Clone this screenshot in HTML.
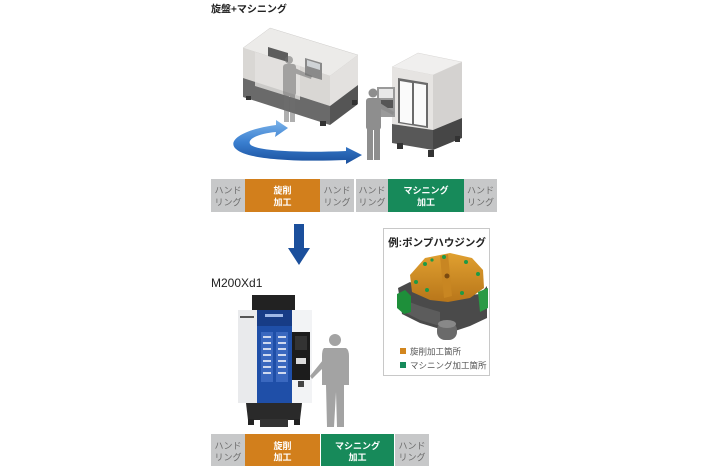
<!DOCTYPE html>
<html><head><meta charset="utf-8">
<style>
html,body{margin:0;padding:0;background:#fff;}
svg{display:block;}
text{font-family:"Liberation Sans","Noto Sans CJK JP",sans-serif;}
</style></head>
<body>
<svg width="710" height="474" viewBox="0 0 710 474" xmlns="http://www.w3.org/2000/svg">
<defs>
<linearGradient id="ag" x1="0" y1="0" x2="0" y2="1">
<stop offset="0" stop-color="#7db4ea"/>
<stop offset="0.5" stop-color="#3a7fd0"/>
<stop offset="1" stop-color="#1a4f9c"/>
</linearGradient>
<linearGradient id="og" x1="0" y1="0" x2="0" y2="1">
<stop offset="0" stop-color="#e0a030"/>
<stop offset="1" stop-color="#b8761a"/>
</linearGradient>
</defs>
<rect width="710" height="474" fill="#fff"/>

<!-- Title -->
<text x="211" y="12.5" font-size="10" font-weight="bold" fill="#222">旋盤+マシニング</text>

<!-- Lathe -->
<polygon points="243,48 270,28 358,55 330,76" fill="#ecebe9" stroke="#cfcdcb" stroke-width="0.5"/>
<polygon points="243,48 330,76 330,106 243,78" fill="#d9d7d4"/>
<polygon points="243,78 330,106 330,125 243,97" fill="#6a6a6a"/>
<polygon points="330,76 358,55 358,85 330,106" fill="#e3e1df"/>
<polygon points="330,106 358,85 358,104 330,125" fill="#555"/>
<polygon points="255,52 300,66 300,100 255,86" fill="#e4e2e0" opacity="0.8"/>
<polygon points="268,47 288,53 288,62 268,56" fill="#5d5d5d"/>
<polygon points="305,58 322,63 322,80 305,75" fill="#8a8a8a"/>
<polygon points="307,60 320,64 320,70 307,66" fill="#cfd3d6"/>
<rect x="246" y="96" width="5" height="4" fill="#333"/>
<rect x="320" y="121" width="6" height="5" fill="#333"/>
<rect x="352" y="100" width="5" height="5" fill="#333"/>
<!-- translucent person -->
<g fill="#6f6f6f" opacity="0.55">
<circle cx="289" cy="60" r="4"/>
<rect x="283" y="64" width="13" height="32" rx="3"/>
<rect x="284" y="95" width="5" height="27"/>
<rect x="290" y="95" width="5" height="27"/>
<polygon points="295,68 312,76 311,79 294,73"/>
</g>

<!-- Mill -->
<polygon points="392,67 418,53 462,62 433,75" fill="#f0efee" stroke="#d8d6d4" stroke-width="0.5"/>
<polygon points="392,67 433,75 433,130 392,124" fill="#e6e4e2"/>
<polygon points="392,124 433,130 433,150 392,143" fill="#585858"/>
<polygon points="433,75 462,62 462,118 433,130" fill="#d4d2d0"/>
<polygon points="433,130 462,118 462,138 433,150" fill="#464646"/>
<polygon points="398,78 428,83 428,128 398,123" fill="#6a6a6a"/>
<polygon points="400,81 412,83 412,124 400,122" fill="#fafafa"/>
<polygon points="414,83 426,85 426,126 414,124" fill="#fafafa"/>
<rect x="397" y="143" width="6" height="6" fill="#333"/>
<rect x="428" y="150" width="6" height="7" fill="#333"/>
<rect x="455" y="136" width="5" height="6" fill="#333"/>
<!-- panel + person -->
<rect x="377" y="87" width="18" height="30" fill="#9a9a9a"/>
<rect x="379" y="89" width="14" height="9" fill="#e8e8e8"/>
<rect x="379" y="100" width="14" height="8" fill="#555"/>
<g fill="#8e8e8e">
<circle cx="373" cy="93" r="4.5"/>
<rect x="366" y="98" width="15" height="32" rx="3"/>
<rect x="367" y="128" width="6" height="32"/>
<rect x="374" y="128" width="6" height="32"/>
<polygon points="380,103 394,112 393,115 379,108"/>
</g>

<!-- Curved blue arrow -->
<path d="M276,125 C245,129 226,140 236,149 C247,160 300,162 346,160 L346,164 L362,155 L346,147 L346,151 C300,153 254,151 250,144 C247,138 262,133 276,132 L275,137 L288,128 L276,120 Z" fill="url(#ag)"/>

<!-- Top process bar -->
<rect x="211" y="179" width="34" height="33" fill="#c7c8c9"/>
<rect x="245" y="179" width="75" height="33" fill="#d27f1c"/>
<rect x="320" y="179" width="34" height="33" fill="#c7c8c9"/>
<rect x="356" y="179" width="32" height="33" fill="#c7c8c9"/>
<rect x="388" y="179" width="76" height="33" fill="#178a5a"/>
<rect x="464" y="179" width="33" height="33" fill="#c7c8c9"/>
<g font-size="9" text-anchor="middle" fill="#6c6c6c">
<text x="228" y="193.5">ハンド</text><text x="228" y="205.5">リング</text>
<text x="337" y="193.5">ハンド</text><text x="337" y="205.5">リング</text>
<text x="372" y="193.5">ハンド</text><text x="372" y="205.5">リング</text>
<text x="480.5" y="193.5">ハンド</text><text x="480.5" y="205.5">リング</text>
</g>
<g font-size="9" text-anchor="middle" fill="#fff" font-weight="bold">
<text x="282.5" y="193.5">旋削</text><text x="282.5" y="205.5">加工</text>
<text x="426" y="193.5">マシニング</text><text x="426" y="205.5">加工</text>
</g>

<!-- Down arrow -->
<rect x="294" y="224" width="10" height="25" fill="#1b4f9c"/>
<polygon points="288,248 310,248 299,265" fill="#1b4f9c"/>

<!-- M200Xd1 -->
<text x="211" y="287" font-size="12" fill="#222">M200Xd1</text>

<!-- Bottom machine -->
<rect x="252" y="295" width="43" height="16" fill="#222"/>
<rect x="238" y="310" width="74" height="93" fill="#f2f3f5"/>
<rect x="238" y="310" width="19" height="93" fill="#e9eaec"/>
<rect x="257" y="310" width="35" height="93" fill="#1f4fa8"/>
<rect x="257" y="310" width="35" height="16" fill="#173c86"/>
<rect x="265" y="314" width="18" height="3" fill="#9fb8e6"/>
<rect x="261" y="332" width="12" height="50" fill="#3a68bf"/>
<rect x="276" y="332" width="12" height="50" fill="#3a68bf"/>
<g fill="#cfd9ef">
<rect x="263" y="336" width="8" height="2"/><rect x="263" y="342" width="8" height="2"/><rect x="263" y="348" width="8" height="2"/><rect x="263" y="354" width="8" height="2"/><rect x="263" y="360" width="8" height="2"/><rect x="263" y="366" width="8" height="2"/><rect x="263" y="372" width="8" height="2"/>
<rect x="278" y="336" width="8" height="2"/><rect x="278" y="342" width="8" height="2"/><rect x="278" y="348" width="8" height="2"/><rect x="278" y="354" width="8" height="2"/><rect x="278" y="360" width="8" height="2"/><rect x="278" y="366" width="8" height="2"/><rect x="278" y="372" width="8" height="2"/>
</g>
<rect x="240" y="316" width="14" height="2" fill="#555"/>
<rect x="292" y="332" width="18" height="48" fill="#1c1c1c"/>
<rect x="295" y="336" width="12" height="14" fill="#333"/>
<rect x="296" y="358" width="10" height="6" fill="#ddd"/>
<rect x="298" y="381" width="6" height="6" fill="#444"/>
<polygon points="246,403 302,403 300,420 248,420" fill="#2a2a2a"/>
<rect x="260" y="419" width="28" height="8" fill="#333"/>
<rect x="248" y="419" width="6" height="6" fill="#222"/>
<rect x="294" y="419" width="6" height="6" fill="#222"/>
<!-- person -->
<g fill="#a3a3a3">
<circle cx="335" cy="340" r="6"/>
<path d="M324,348 L346,348 Q349,350 349,356 L349,385 L344,385 L344,427 L337,427 L336,392 L334,427 L327,427 L326,385 L322,385 L322,356 Q322,350 324,348 Z"/>
<polygon points="323,360 310,376 312,379 325,366"/>
</g>

<!-- Bottom process bar -->
<rect x="211" y="434" width="34" height="32" fill="#c7c8c9"/>
<rect x="245" y="434" width="75" height="32" fill="#d27f1c"/>
<rect x="321" y="434" width="73" height="32" fill="#178a5a"/>
<rect x="395" y="434" width="34" height="32" fill="#c7c8c9"/>
<g font-size="9" text-anchor="middle" fill="#6c6c6c">
<text x="228" y="449">ハンド</text><text x="228" y="460.5">リング</text>
<text x="412" y="449">ハンド</text><text x="412" y="460.5">リング</text>
</g>
<g font-size="9" text-anchor="middle" fill="#fff" font-weight="bold">
<text x="282.5" y="449">旋削</text><text x="282.5" y="460.5">加工</text>
<text x="357.5" y="449">マシニング</text><text x="357.5" y="460.5">加工</text>
</g>

<!-- Example box -->
<rect x="383.5" y="228.5" width="106" height="147" fill="#fff" stroke="#c8c8c8" stroke-width="1"/>
<text x="437" y="246" font-size="10.5" font-weight="bold" text-anchor="middle" fill="#222">例:ポンプハウジング</text>
<!-- Part -->
<polygon points="398,288 410,282 440,298 480,294 487,286 487,318 470,326 455,331 440,329 420,323 402,314" fill="#4a4a4a"/>
<polygon points="404,300 420,306 440,312 440,326 420,320 404,312" fill="#5c5c5c"/>
<polygon points="410,275 425,258 450,253 472,258 483,270 484,288 470,298 448,302 430,300 412,292" fill="url(#og)"/>
<polygon points="440,256 448,254 452,296 444,298" fill="#c88622"/>
<polygon points="397,294 405,290 411,296 411,312 404,314 397,308" fill="#1e8f3a"/>
<polygon points="478,292 488,288 488,308 480,312" fill="#2a9a45"/>
<rect x="437" y="322" width="20" height="18" rx="8" fill="#6a6a6a"/>
<ellipse cx="447" cy="324" rx="9" ry="4" fill="#888"/>
<g fill="#1e9a45">
<circle cx="425" cy="264" r="2"/><circle cx="444" cy="257" r="2"/><circle cx="466" cy="262" r="2"/>
<circle cx="478" cy="274" r="2"/><circle cx="416" cy="282" r="2"/><circle cx="427" cy="290" r="2"/>
<circle cx="462" cy="293" r="2"/><circle cx="432" cy="260" r="1.6"/>
</g>
<circle cx="447" cy="276" r="2.5" fill="#7a4a10"/>
<!-- Legend -->
<rect x="400" y="348" width="6" height="6" fill="#d2861e"/>
<text x="410" y="354.5" font-size="8.5" fill="#555">旋削加工箇所</text>
<rect x="400" y="362" width="6" height="6" fill="#168a5a"/>
<text x="410" y="368.5" font-size="8.5" fill="#555">マシニング加工箇所</text>
</svg>
</body></html>
